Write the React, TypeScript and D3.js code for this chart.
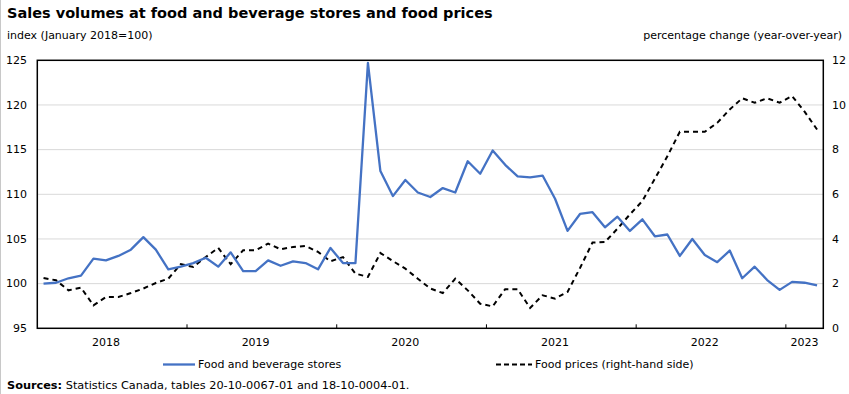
import React from "react";
import * as d3 from "d3";

const title = "Sales volumes at food and beverage stores and food prices";
const leftUnit = "index (January 2018=100)";
const rightUnit = "percentage change (year-over-year)";
const seriesNames = ["Food and beverage stores", "Food prices (right-hand side)"];
const years = ["2018", "2019", "2020", "2021", "2022", "2023"];
const monthsPerYear = [12, 12, 12, 12, 12, 3];
const leftTicks = [95, 100, 105, 110, 115, 120, 125];
const rightTicks = [0, 2, 4, 6, 8, 10, 12];

// Monthly, January 2018 to March 2023
const salesIndex = [
  100.0, 100.1, 100.6, 100.9, 102.8, 102.6, 103.1, 103.8, 105.2, 103.8, 101.6, 101.9,
  102.3, 102.9, 101.9, 103.5, 101.4, 101.4, 102.6, 102.0, 102.5, 102.3, 101.6, 104.0,
  102.3, 102.3, 124.7, 112.6, 109.8, 111.6, 110.2, 109.7, 110.7, 110.2, 113.7, 112.3,
  114.9, 113.3, 112.0, 111.9, 112.1, 109.5, 105.9, 107.8, 108.0, 106.3, 107.5, 105.9,
  107.2, 105.3, 105.5, 103.1, 105.0, 103.2, 102.4, 103.7, 100.6, 101.9, 100.4, 99.3,
  100.2, 100.1, 99.8,
];
const foodPrices = [
  2.25, 2.15, 1.7, 1.82, 1.03, 1.4, 1.4, 1.58, 1.78, 2.03, 2.22, 2.87,
  2.75, 3.19, 3.6, 2.87, 3.49, 3.49, 3.79, 3.54, 3.64, 3.69, 3.42, 3.0,
  3.19, 2.45, 2.3, 3.37, 3.01, 2.67, 2.22, 1.78, 1.58, 2.22, 1.7, 1.1,
  0.98, 1.75, 1.75, 0.91, 1.48, 1.33, 1.63, 2.7, 3.84, 3.86, 4.46, 5.1,
  5.7, 6.7, 7.7, 8.8, 8.8, 8.8, 9.2, 9.8, 10.3, 10.1, 10.3, 10.1,
  10.4, 9.7, 8.9,
];

const W = 849;
const H = 394;
const M = { left: 37.3, right: 823.3, top: 60.3, bottom: 328.3 };
const FONT = "DejaVu Sans, Verdana, sans-serif";

export default function App() {
  const n = salesIndex.length;
  const x = d3.scaleLinear().domain([-0.5, n - 0.5]).range([M.left, M.right]);
  const yL = d3.scaleLinear().domain([95, 125]).range([M.bottom, M.top]);
  const yR = d3.scaleLinear().domain([0, 12]).range([M.bottom, M.top]);

  const lineL = d3.line<number>().x((_, i) => x(i)).y((d) => yL(d));
  const lineR = d3.line<number>().x((_, i) => x(i)).y((d) => yR(d));

  const starts: number[] = [];
  let acc = 0;
  monthsPerYear.forEach((m) => {
    starts.push(acc);
    acc += m;
  });

  return (
    <svg
      width={W}
      height={H}
      style={{ position: "absolute", left: 0, top: 0, background: "#fff" }}
      fontFamily={FONT}
    >
      <rect x={0} y={0} width={W} height={H} fill="#fff" />
      <line x1={0.5} x2={0.5} y1={0} y2={H} stroke="#c8c8c8" strokeWidth={1} />
      <text x={7} y={18} fontSize={14.5} fontWeight="bold" fill="#000">
        {title}
      </text>
      <text x={7} y={39} fontSize={11} fill="#000">
        {leftUnit}
      </text>
      <text x={842} y={39} fontSize={11} fill="#000" textAnchor="end">
        {rightUnit}
      </text>

      {leftTicks.slice(1, -1).map((t) => (
        <line
          key={"g" + t}
          x1={M.left}
          x2={M.right}
          y1={yL(t)}
          y2={yL(t)}
          stroke="#d9d9d9"
          strokeWidth={1}
        />
      ))}

      {leftTicks.map((t) => (
        <text
          key={"l" + t}
          x={27}
          y={yL(t)}
          dy="0.35em"
          fontSize={11}
          textAnchor="end"
          fill="#000"
        >
          {t}
        </text>
      ))}
      {rightTicks.map((t) => (
        <text key={"r" + t} x={832} y={yR(t)} dy="0.35em" fontSize={11} fill="#000">
          {t}
        </text>
      ))}

      {starts.slice(1).map((s, i) => (
        <line
          key={"t" + i}
          x1={x(s - 0.5)}
          x2={x(s - 0.5)}
          y1={M.bottom}
          y2={M.bottom - 4}
          stroke="#000"
          strokeWidth={1}
        />
      ))}
      {years.map((yr, i) => (
        <text
          key={"y" + yr}
          x={x(starts[i] + Math.floor((monthsPerYear[i] - 1) / 2))}
          y={346}
          fontSize={11}
          textAnchor="middle"
          fill="#000"
        >
          {yr}
        </text>
      ))}

      <path d={lineR(foodPrices) || ""} fill="none" stroke="#000" strokeWidth={2} strokeDasharray="5,4" />
      <path d={lineL(salesIndex) || ""} fill="none" stroke="#4472c4" strokeWidth={2.3} strokeLinejoin="round" />

      <rect
        x={M.left}
        y={M.top}
        width={M.right - M.left}
        height={M.bottom - M.top}
        fill="none"
        stroke="#000"
        strokeWidth={1.5}
      />

      <line x1={163} x2={195} y1={364.5} y2={364.5} stroke="#4472c4" strokeWidth={2.3} />
      <text x={198} y={364.5} dy="0.35em" fontSize={11} fill="#000">
        {seriesNames[0]}
      </text>
      <line x1={496} x2={532} y1={364.5} y2={364.5} stroke="#000" strokeWidth={2} strokeDasharray="5,3" />
      <text x={535} y={364.5} dy="0.35em" fontSize={11} fill="#000">
        {seriesNames[1]}
      </text>

      <text x={7} y={389} fontSize={11.3} fill="#000">
        <tspan fontWeight="bold">Sources:</tspan>
        <tspan> Statistics Canada, tables 20-10-0067-01 and 18-10-0004-01.</tspan>
      </text>
    </svg>
  );
}
